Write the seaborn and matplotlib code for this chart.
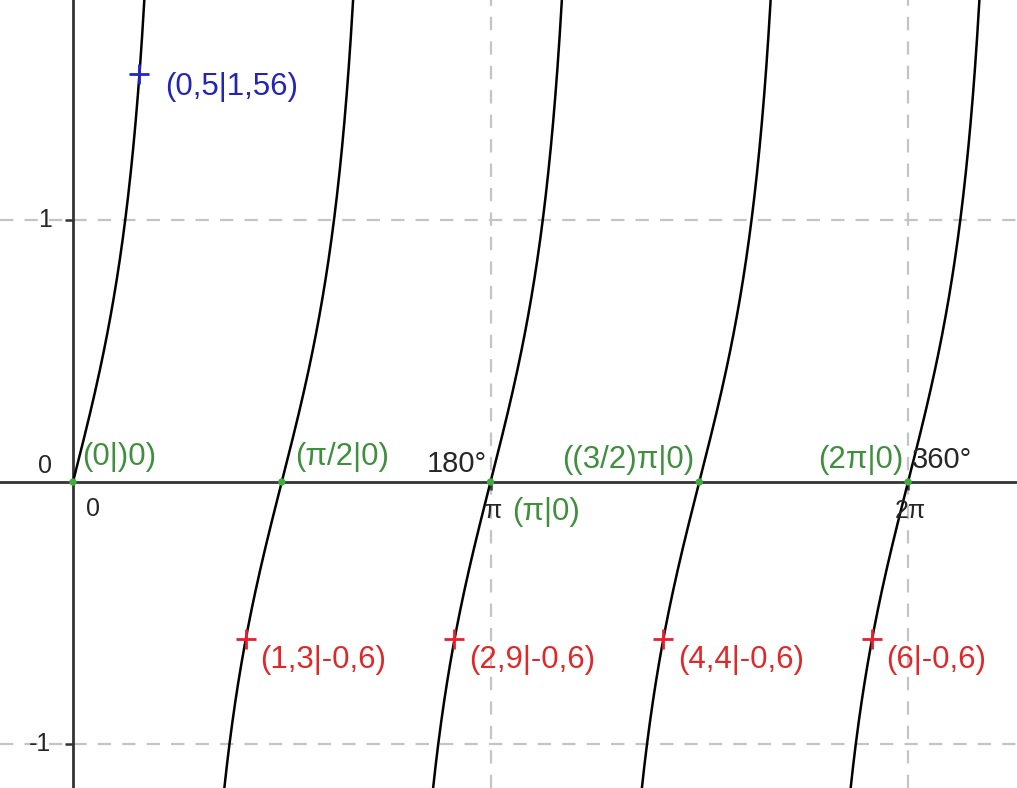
# Plot of y = tan(2x) in GeoGebra style with marked points

import numpy as np
import pandas as pd
import matplotlib
matplotlib.use('Agg')
import matplotlib.pyplot as plt
import seaborn as sns

# zeros of the curve (branch centres) and their labels
zero_x = [0, np.pi / 2, np.pi, 3 * np.pi / 2, 2 * np.pi]
zero_labels = ['(0|)0)', '(π/2|0)', '(π|0)', '((3/2)π|0)', '(2π|0)']

# blue point
blue_x = [0.5]
blue_y = [1.56]
blue_labels = ['(0,5|1,56)']

# red points
red_x = [1.30, 2.87, 4.44, 6.01]
red_y = [-0.6, -0.6, -0.6, -0.6]
red_labels = ['(1,3|-0,6)', '(2,9|-0,6)', '(4,4|-0,6)', '(6|-0,6)']

# axis ticks
y_ticks = [-1, 0, 1]
y_tick_labels = ['-1', '0', '1']
x_ticks = [np.pi, 2 * np.pi]
x_tick_labels = ['π', '2π']
deg_labels = ['180°', '360°']

XMIN, XMAX = -0.549, 7.103
YMIN, YMAX = -1.170, 1.843

sns.set_style('white')
plt.rcParams['font.family'] = ['Liberation Sans', 'DejaVu Sans']

fig = plt.figure(figsize=(10.17, 7.88), dpi=100)
ax = fig.add_axes([0, 0, 1, 1])

# grid lines
for gx in x_ticks:
    ax.axvline(gx, color='#c4c4c4', lw=1.6, ls=(0, (6, 5)), zorder=0)
for gy in [1, -1]:
    ax.axhline(gy, color='#c4c4c4', lw=1.6, ls=(0, (6, 5)), zorder=0)

# curve branches of tan(2x), only drawn for x >= 0
ys = np.linspace(-1.4, 2.1, 300)
rows = []
for k, x0 in enumerate(zero_x):
    bx = x0 + np.arctan(ys) / 2
    part = pd.DataFrame({'x': bx, 'y': ys, 'branch': k})
    rows.append(part[part['x'] >= 0])
curve = pd.concat(rows)
sns.lineplot(data=curve, x='x', y='y', units='branch', estimator=None,
             color='black', lw=1.8, sort=False, ax=ax, zorder=3)

# axes
ax.spines['left'].set_position(('data', 0))
ax.spines['bottom'].set_position(('data', 0))
ax.spines['right'].set_visible(False)
ax.spines['top'].set_visible(False)
for s in ['left', 'bottom']:
    ax.spines[s].set_color('#333333')
    ax.spines[s].set_linewidth(2)
    ax.spines[s].set_zorder(2)

ax.set_xlim(XMIN, XMAX)
ax.set_ylim(YMIN, YMAX)
ax.set_yticks([1, -1])
ax.set_yticklabels([])
ax.set_xticks(x_ticks)
ax.set_xticklabels([])
ax.tick_params(axis='both', direction='out', length=6, width=1.8, color='#333333',
               left=True, bottom=True)
ax.set_xlabel('')
ax.set_ylabel('')

# tick labels
ax.text(-0.21, 1, y_tick_labels[2], fontsize=18, ha='center', va='center')
ax.text(-0.21, 0.06, y_tick_labels[1], fontsize=18, ha='center', va='center')
ax.text(-0.25, -1, y_tick_labels[0], fontsize=18, ha='center', va='center')
ax.text(0.15, -0.105, '0', fontsize=18, ha='center', va='center')
for gx, lab in zip(x_ticks, x_tick_labels):
    ax.text(gx + 0.02, -0.11, lab, fontsize=18, ha='center', va='center')
ax.text(np.pi - 0.03, 0.07, deg_labels[0], fontsize=21, ha='right', va='center')
ax.text(2 * np.pi + 0.03, 0.085, deg_labels[1], fontsize=21, ha='left', va='center')

# zero points
green = '#3f8f3f'
fs = 22.5
sns.scatterplot(x=zero_x, y=[0] * len(zero_x), color='#3fae3f', s=28,
                edgecolor='none', ax=ax, zorder=4)
ax.text(0.07, 0.095, zero_labels[0], color=green, fontsize=fs, ha='left', va='center')
ax.text(np.pi / 2 + 0.1, 0.095, zero_labels[1], color=green, fontsize=fs, ha='left', va='center')
ax.text(np.pi + 0.16, -0.115, zero_labels[2], color=green, fontsize=fs, ha='left', va='center')
ax.text(3 * np.pi / 2 - 1.03, 0.085, zero_labels[3], color=green, fontsize=fs, ha='left', va='center')
ax.text(2 * np.pi - 0.68, 0.085, zero_labels[4], color=green, fontsize=fs, ha='left', va='center')

# blue point
sns.scatterplot(x=blue_x, y=blue_y, marker='+', color='#2424c8', s=220,
                linewidth=2, ax=ax, zorder=5)
for px, py, lab in zip(blue_x, blue_y, blue_labels):
    ax.text(px + 0.19, py - 0.05, lab, color='#2424b4', fontsize=fs, ha='left', va='center')

# red points
sns.scatterplot(x=red_x, y=red_y, marker='+', color='#e8202a', s=220,
                linewidth=2, ax=ax, zorder=5)
for px, py, lab in zip(red_x, red_y, red_labels):
    ax.text(px + 0.11, py - 0.08, lab, color='#e02828', fontsize=fs, ha='left', va='center')

plt.savefig('out.png', dpi=100)
plt.close()
